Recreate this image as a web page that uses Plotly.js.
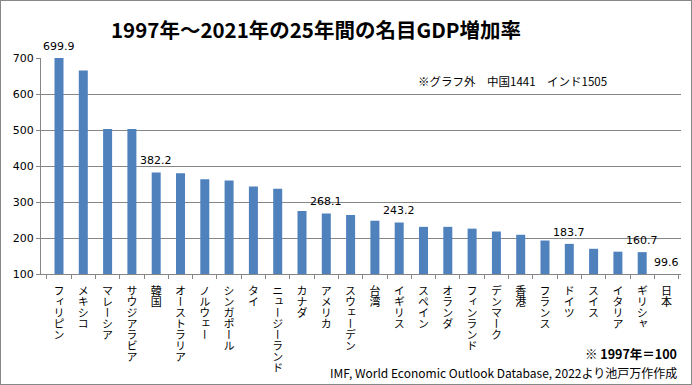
<!DOCTYPE html>
<html><head><meta charset="utf-8">
<script src="https://cdn.plot.ly/plotly-3.0.1.min.js"></script>
<style>
html,body{margin:0;padding:0;background:#fff;}
#chart{display:inline-block;border:1px solid #888;width:690px;height:383px;}
</style></head>
<body><div id="chart"></div>
<script>
const categories = ['フィリピン','メキシコ','マレーシア','サウジアラビア','韓国','オーストラリア','ノルウェー','シンガポール','タイ','ニュージーランド','カナダ','アメリカ','スウェーデン','台湾','イギリス','スペイン','オランダ','フィンランド','デンマーク','香港','フランス','ドイツ','スイス','イタリア','ギリシャ','日本'];
const values = [699.9,665,503,503,382.2,380,363,360,343,337,275,268.1,264,248,243.2,231,231,226,218,209,193,183.7,170,162,160.7,99.6];
const labeledCategories = ['フィリピン','韓国','アメリカ','イギリス','ドイツ','ギリシャ','日本'];
const yTickValues = [100,200,300,400,500,600,700];
const titleText = '1997年～2021年の25年間の名目GDP増加率';
const noteText = '※グラフ外　中国1441　インド1505';
const baseNote = '※ 1997年＝100';
const sourceText = 'IMF, World Economic Outlook Database, 2022より池戸万作作成';

const yRange = [100, 700];
const jp = '"Noto Sans CJK JP", sans-serif';
const num = '"DejaVu Sans", sans-serif';

const annotations = labeledCategories.map(c => {
  const v = values[categories.indexOf(c)];
  return {x: c, y: Math.max(v, yRange[0]), xref:'x', yref:'y', text: v.toFixed(1),
    showarrow:false, yanchor:'bottom', yshift:3, font:{family:num, size:11, color:'#000'}};
});
annotations.push(
  {xref:'paper', yref:'paper', x:0.887, y:0.893, xanchor:'right', yanchor:'middle', text:noteText, showarrow:false,
   font:{family:jp, size:11.5, color:'#000'}},
  {xref:'paper', yref:'paper', x:0.997, y:-0.366, xanchor:'right', yanchor:'middle', text:'<b>'+baseNote+'</b>', showarrow:false,
   font:{family:jp, size:12.5, color:'#000'}},
  {xref:'paper', yref:'paper', x:0.997, y:-0.454, xanchor:'right', yanchor:'middle', text:sourceText, showarrow:false,
   font:{family:jp, size:12, color:'#000'}}
);

const trace = {type:'bar', x:categories, y:values, marker:{color:'#4F81BD'}, hoverinfo:'none'};

const layout = {
  width:690, height:383,
  margin:{l:40, r:10, t:57, b:110},
  paper_bgcolor:'#fff', plot_bgcolor:'#fff',
  bargap:0.63,
  showlegend:false,
  title:{text:titleText, x:315/690, xanchor:'center', xref:'container', y:1-30/383, yref:'container', yanchor:'middle',
    font:{family:jp, size:20.5, weight:'bold', color:'#000'}},
  xaxis:{type:'category', tickangle:0, automargin:false, showgrid:false, showline:true, linecolor:'#868686', linewidth:1,
    ticks:'outside', tickson:'boundaries', ticklen:4, tickcolor:'#868686',
    tickfont:{family:jp, size:11, color:'#000'}},
  yaxis:{range:yRange, tickvals:yTickValues, automargin:false, showgrid:true, gridcolor:'#868686', gridwidth:1,
    showline:true, linecolor:'#868686', linewidth:1, ticks:'outside', ticklen:4, tickcolor:'#868686', zeroline:false,
    tickfont:{family:num, size:11, color:'#000'}},
  annotations:annotations
};

const gd = document.getElementById('chart');
function verticalize(){
  const s = gd._fullLayout._size;
  const startY = s.t + s.h + 11;
  gd.querySelectorAll('.xtick text').forEach(t => {
    t.style.writingMode = 'vertical-rl';
    t.setAttribute('writing-mode','tb');
    t.setAttribute('text-anchor','start');
    t.setAttribute('y', startY);
    t.removeAttribute('dy');
  });
}
Plotly.newPlot(gd, [trace], layout, {staticPlot:true, displayModeBar:false}).then(() => {
  verticalize();
  gd.on('plotly_afterplot', verticalize);
});
</script>
</body></html>
